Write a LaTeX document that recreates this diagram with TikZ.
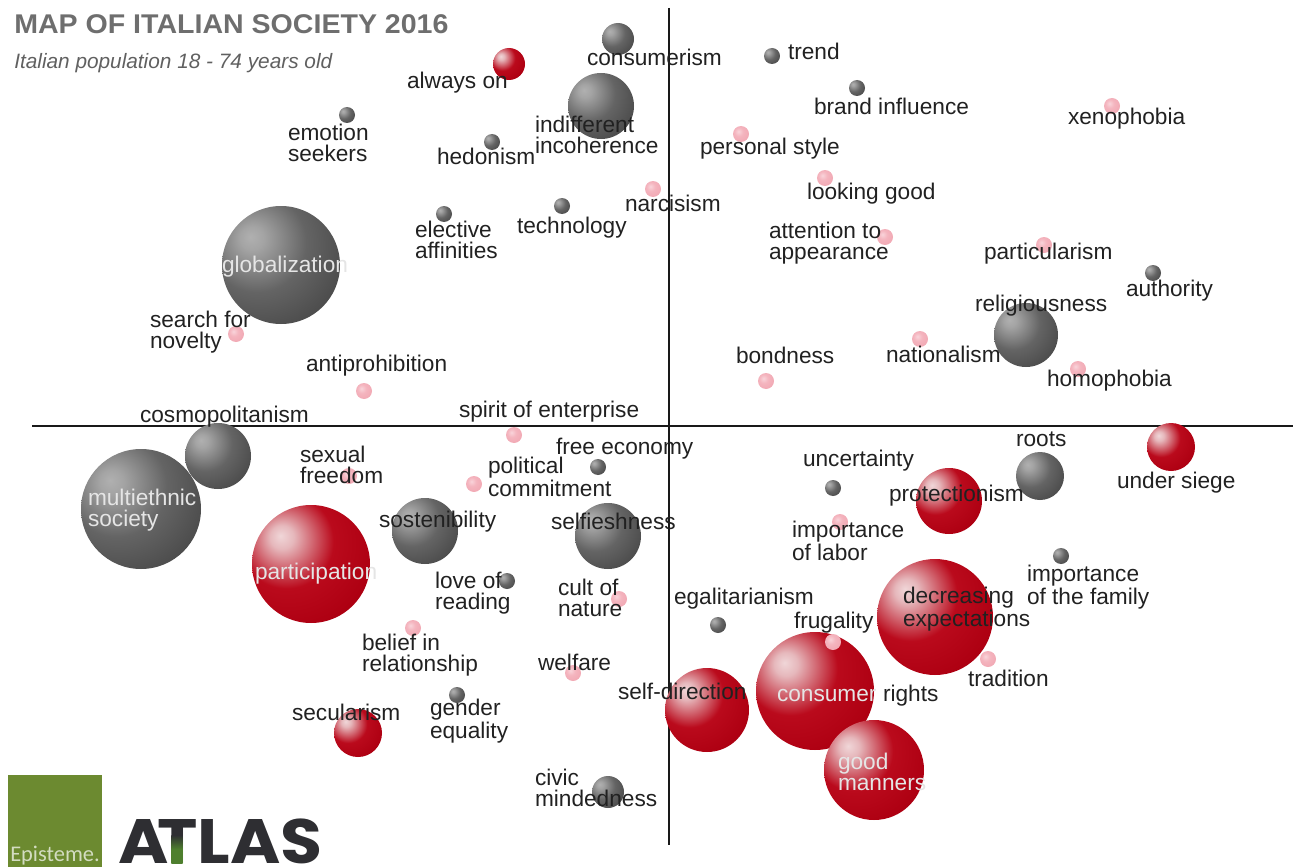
\documentclass[tikz,border=0pt]{standalone}
\usepackage{fontspec}
\setmainfont{Liberation Sans}
\newfontfamily\logofont{Poppins}[UprightFont=* Bold]
\newfontfamily\epifont{Carlito}
\definecolor{titlegray}{HTML}{6E6E6E}
\definecolor{subgray}{HTML}{606060}
\definecolor{logogreen}{HTML}{6C8A30}
\definecolor{logodark}{HTML}{2E2E32}
\definecolor{stemgreen}{HTML}{4E7F2E}
\definecolor{ga}{HTML}{B0B0B0}\definecolor{gbb}{HTML}{A4A4A4}\definecolor{gc}{HTML}{646464}\definecolor{gd}{HTML}{4E4E4E}\definecolor{ge}{HTML}{363636}
\definecolor{ra}{HTML}{F0D6D8}\definecolor{rbb}{HTML}{E6B8BC}\definecolor{rc}{HTML}{BA0A1C}\definecolor{rd}{HTML}{AE0012}\definecolor{re}{HTML}{8A000F}
\definecolor{pa}{HTML}{F9D4DA}\definecolor{pbb}{HTML}{F4B4BE}\definecolor{pc}{HTML}{EE9EAA}
\pgfdeclareradialshading{grayball}{\pgfpoint{-13bp}{12bp}}{color(0bp)=(ga); color(5bp)=(gbb); color(21bp)=(gc); color(35bp)=(gd); color(52bp)=(ge); color(100bp)=(ge)}
\pgfdeclareradialshading{redball}{\pgfpoint{-13bp}{12bp}}{color(0bp)=(ra); color(5bp)=(rbb); color(20bp)=(rc); color(35bp)=(rd); color(52bp)=(re); color(100bp)=(re)}
\pgfdeclareradialshading{pinkball}{\pgfpoint{-8bp}{8bp}}{color(0bp)=(pa); color(14bp)=(pbb); color(50bp)=(pc); color(100bp)=(pc)}
\tikzset{
  ballbase/.style={circle,inner sep=0pt,outer sep=0pt,draw=none},
  gb/.style={ballbase,shading=grayball},
  rb/.style={ballbase,shading=redball},
  pb/.style={ballbase,shading=pinkball,minimum size=12pt},
  db/.style={ballbase,shading=grayball,minimum size=12pt},
  lbl/.style={inner sep=0pt,outer sep=0pt,anchor=west,align=left,text=black!87,yshift=-2.2pt,
    font=\fontsize{17}{15.8}\selectfont,execute at begin node=\strut,execute at end node=\strut},
  wlbl/.style={lbl,text=white!90!black},
  axisline/.style={line width=2.2pt,black!90}
}
\newcommand{\ball}[5]{\node[#2,minimum size=#5*1.5pt] (#1) at (#3,#4) {};}
\begin{document}
\begin{tikzpicture}[x=0.75pt,y=-0.75pt]
\useasboundingbox (0,0) rectangle (1293,867);
\clip (0,0) rectangle (1293,867);
\coordinate (vtop) at (669,8);
\coordinate (vbot) at (669,845);
\coordinate (hleft) at (32,426);
\coordinate (hright) at (1293,426);
\draw[axisline] (vtop) -- (vbot);
\draw[axisline] (hleft) -- (hright);
% large gray
\ball{bcons}{gb}{618}{39}{16}
\ball{bindi}{gb}{601}{106}{33}
\ball{bglob}{gb}{281}{265}{59}
\ball{brelig}{gb}{1026}{335}{32}
\ball{bcosmo}{gb}{218}{456}{33}
\ball{bmulti}{gb}{141}{509}{60}
\ball{bsost}{gb}{425}{531}{33}
\ball{bself}{gb}{608}{536}{33}
\ball{broots}{gb}{1040}{476}{24}
\ball{bcivic}{gb}{608}{792}{16}
% small dark
\node[db] (dtrend) at (772,56) {};
\node[db] (dbrand) at (857,88) {};
\node[db] (demot) at (347,115) {};
\node[db] (dhedo) at (492,142) {};
\node[db] (delec) at (444,214) {};
\node[db] (dtech) at (562,206) {};
\node[db] (dauth) at (1153,273) {};
\node[db] (dfree) at (598,467) {};
\node[db] (duncer) at (833,488) {};
\node[db] (dfamily) at (1061,556) {};
\node[db] (dlove) at (507,581) {};
\node[db] (degal) at (718,625) {};
\node[db] (dgender) at (457,695) {};
% red
\ball{ralways}{rb}{509}{64}{16}
\ball{rsiege}{rb}{1171}{447}{24}
\ball{rprot}{rb}{949}{501}{33}
\ball{rpart}{rb}{311}{564}{59}
\ball{rdecr}{rb}{935}{617}{58}
\ball{rcons}{rb}{815}{691}{59}
\ball{rsdir}{rb}{707}{710}{42}
\ball{rgood}{rb}{874}{770}{50}
\ball{rsec}{rb}{358}{733}{24}
% pink
\node[pb] (pxeno) at (1112,106) {};
\node[pb] (ppers) at (741,134) {};
\node[pb] (plook) at (825,178) {};
\node[pb] (pnarc) at (653,189) {};
\node[pb] (pattn) at (885,237) {};
\node[pb] (ppart) at (1044,245) {};
\node[pb] (pnat) at (920,339) {};
\node[pb] (phomo) at (1078,369) {};
\node[pb] (psearch) at (236,334) {};
\node[pb] (panti) at (364,391) {};
\node[pb] (pbond) at (766,381) {};
\node[pb] (pspirit) at (514,435) {};
\node[pb] (psex) at (349,476) {};
\node[pb] (ppol) at (474,484) {};
\node[pb] (plabor) at (840,522) {};
\node[pb] (pcult) at (619,599) {};
\node[pb] (pbelief) at (413,628) {};
\node[pb] (pwelf) at (573,673) {};
\node[pb] (pfrug) at (833,642) {};
\node[pb] (ptrad) at (988,659) {};
% labels
\node[lbl] (tcons) at (587,58) {consumerism};
\node[lbl] (talways) at (407,81) {always on};
\node[lbl] (ttrend) at (788,52) {trend};
\node[lbl] (tbrand) at (814,107) {brand influence};
\node[lbl] (txeno) at (1068,117) {xenophobia};
\node[lbl] (temot) at (288,143) {emotion\\seekers};
\node[lbl] (thedo) at (437,157) {hedonism};
\node[lbl] (tindi) at (535,135) {indifferent\\incoherence};
\node[lbl] (tpers) at (700,147) {personal style};
\node[lbl] (tlook) at (807,192) {looking good};
\node[lbl] (tnarc) at (625,204) {narcisism};
\node[lbl] (telec) at (415,240) {elective\\affinities};
\node[lbl] (ttech) at (517,226) {technology};
\node[lbl] (tattn) at (769,241) {attention to\\appearance};
\node[wlbl] (tglob) at (222,265) {globalization};
\node[lbl] (tpart) at (984,252) {particularism};
\node[lbl] (tauth) at (1126,289) {authority};
\node[lbl] (trelig) at (975,304) {religiousness};
\node[lbl] (tsearch) at (150,330) {search for\\novelty};
\node[lbl] (tnat) at (886,355) {nationalism};
\node[lbl] (tbond) at (736,356) {bondness};
\node[lbl] (tanti) at (306,364) {antiprohibition};
\node[lbl] (thomo) at (1047,379) {homophobia};
\node[lbl] (tspirit) at (459,410) {spirit of enterprise};
\node[lbl] (tcosmo) at (140,415) {cosmopolitanism};
\node[lbl] (troots) at (1016,439) {roots};
\node[lbl] (tfree) at (556,447) {free economy};
\node[lbl] (tsiege) at (1117,481) {under siege};
\node[lbl] (tsex) at (300,465) {sexual\\freedom};
\node[lbl] (tpol) at (488,477) {political\\commitment};
\node[lbl] (tuncer) at (803,459) {uncertainty};
\node[lbl] (tprot) at (889,494) {protectionism};
\node[lbl] (tlabor) at (792,541) {importance\\of labor};
\node[wlbl] (tmulti) at (88,508) {multiethnic\\society};
\node[lbl] (tsost) at (379,520) {sostenibility};
\node[lbl] (tself) at (551,522) {selfieshness};
\node[wlbl] (tpartic) at (255,572) {participation};
\node[lbl] (tlove) at (435,591) {love of\\reading};
\node[lbl] (tcult) at (558,598) {cult of\\nature};
\node[lbl] (tfamily) at (1027,585) {importance\\of the family};
\node[lbl] (tegal) at (674,597) {egalitarianism};
\node[lbl] (tdecr) at (903,607) {decreasing\\expectations};
\node[lbl] (tfrug) at (794,621) {frugality};
\node[lbl] (tbelief) at (362,653) {belief in\\relationship};
\node[lbl] (twelf) at (538,663) {welfare};
\node[lbl] (ttrad) at (968,679) {tradition};
\node[wlbl] (tconsu) at (777,694) {consumer};
\node[lbl] (trights) at (883,694) {rights};
\node[lbl] (tsdir) at (618,692) {self-direction};
\node[lbl] (tsec) at (292,713) {secularism};
\node[lbl] (tgender) at (430,719) {gender\\equality};
\node[wlbl] (tgood) at (838,772) {good\\manners};
\node[lbl] (tcivic) at (535,788) {civic\\mindedness};
% title
\node[anchor=base west,inner sep=0pt,xscale=1.055,text=titlegray,font=\fontsize{20.3}{20}\selectfont\bfseries] (title) at (14,34) {MAP OF ITALIAN SOCIETY 2016};
\node[anchor=base west,inner sep=0pt,text=subgray,font=\fontsize{15.6}{16}\selectfont\itshape] (subtitle) at (14,69) {Italian population 18 - 74 years old};
% logo
\node[anchor=north west,inner sep=0pt,minimum width=70.5pt,minimum height=69pt,fill=logogreen] (greenbox) at (8,775) {};
\node[anchor=base west,inner sep=0pt,text=white!70!logogreen,font=\fontsize{16.8}{17}\epifont] (epi) at (10,861) {Episteme.};
\node[anchor=base west,inner sep=0pt,xscale=1.09,text=logodark,font=\fontsize{47}{48}\logofont] (atlas) at (118,863) {A\kern-7.7pt TLAS};
\node[inner sep=0pt,minimum width=8.5pt,minimum height=21pt,top color=logodark,bottom color=stemgreen,middle color=stemgreen] (tstem) at (177,849) {};
\end{tikzpicture}
\end{document}
